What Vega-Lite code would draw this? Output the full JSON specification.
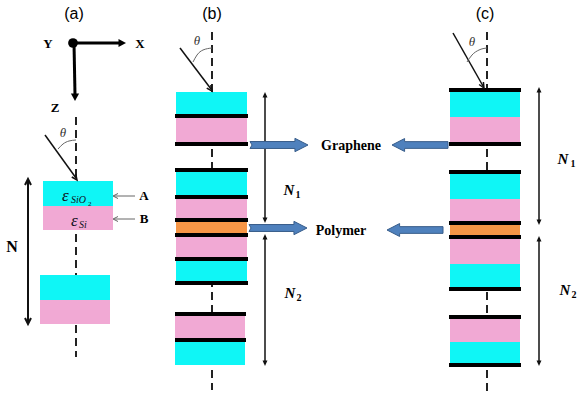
{
  "$schema": "https://vega.github.io/schema/vega-lite/v6.json",
  "width": 581,
  "height": 397,
  "padding": 0,
  "autosize": {"type": "fit", "contains": "padding"},
  "background": "white",
  "config": {"view": {"stroke": null}},
  "datasets": {
    "dashes": [
      {"x": 76, "y": 117, "y2": 357},
      {"x": 212, "y": 32, "y2": 390},
      {"x": 487, "y": 32, "y2": 392}
    ],
    "rects": [
      {"x": 43, "x2": 113, "y": 181, "y2": 206, "m": "SiO2"},
      {"x": 43, "x2": 113, "y": 206, "y2": 230, "m": "Si"},
      {"x": 40, "x2": 110, "y": 275, "y2": 300, "m": "SiO2"},
      {"x": 40, "x2": 110, "y": 300, "y2": 324, "m": "Si"},
      {"x": 176, "x2": 247, "y": 92, "y2": 116, "m": "SiO2"},
      {"x": 176, "x2": 247, "y": 116, "y2": 143, "m": "Si"},
      {"x": 176, "x2": 247, "y": 170, "y2": 197, "m": "SiO2"},
      {"x": 176, "x2": 247, "y": 197, "y2": 220, "m": "Si"},
      {"x": 176, "x2": 247, "y": 220, "y2": 235, "m": "polymer"},
      {"x": 176, "x2": 247, "y": 235, "y2": 259, "m": "Si"},
      {"x": 176, "x2": 247, "y": 259, "y2": 283, "m": "SiO2"},
      {"x": 175, "x2": 245, "y": 314, "y2": 340, "m": "Si"},
      {"x": 175, "x2": 245, "y": 340, "y2": 365, "m": "SiO2"},
      {"x": 450, "x2": 520, "y": 91, "y2": 117, "m": "SiO2"},
      {"x": 450, "x2": 520, "y": 117, "y2": 143, "m": "Si"},
      {"x": 450, "x2": 520, "y": 173, "y2": 199, "m": "SiO2"},
      {"x": 450, "x2": 520, "y": 199, "y2": 222, "m": "Si"},
      {"x": 450, "x2": 520, "y": 222, "y2": 237, "m": "polymer"},
      {"x": 450, "x2": 520, "y": 237, "y2": 264, "m": "Si"},
      {"x": 450, "x2": 520, "y": 264, "y2": 288, "m": "SiO2"},
      {"x": 450, "x2": 520, "y": 318, "y2": 342, "m": "Si"},
      {"x": 450, "x2": 520, "y": 342, "y2": 364, "m": "SiO2"},
      {"x": 175, "x2": 248, "y": 114, "y2": 118, "m": "graphene"},
      {"x": 175, "x2": 248, "y": 142, "y2": 146, "m": "graphene"},
      {"x": 175, "x2": 248, "y": 168, "y2": 172, "m": "graphene"},
      {"x": 175, "x2": 248, "y": 195, "y2": 199, "m": "graphene"},
      {"x": 175, "x2": 248, "y": 218, "y2": 222, "m": "graphene"},
      {"x": 175, "x2": 248, "y": 233, "y2": 237, "m": "graphene"},
      {"x": 175, "x2": 248, "y": 257, "y2": 261, "m": "graphene"},
      {"x": 175, "x2": 248, "y": 281, "y2": 285, "m": "graphene"},
      {"x": 175, "x2": 246, "y": 312, "y2": 316, "m": "graphene"},
      {"x": 175, "x2": 246, "y": 338, "y2": 342, "m": "graphene"},
      {"x": 449, "x2": 521, "y": 88, "y2": 92, "m": "graphene"},
      {"x": 449, "x2": 521, "y": 142, "y2": 146, "m": "graphene"},
      {"x": 449, "x2": 521, "y": 170, "y2": 174, "m": "graphene"},
      {"x": 449, "x2": 521, "y": 221, "y2": 225, "m": "graphene"},
      {"x": 449, "x2": 521, "y": 235, "y2": 239, "m": "graphene"},
      {"x": 449, "x2": 521, "y": 287, "y2": 291, "m": "graphene"},
      {"x": 449, "x2": 521, "y": 315, "y2": 319, "m": "graphene"},
      {"x": 449, "x2": 521, "y": 363, "y2": 367, "m": "graphene"}
    ],
    "thin": [
      {"x": 45, "y": 135, "x2": 76, "y2": 178},
      {"x": 180, "y": 48, "x2": 211, "y2": 89},
      {"x": 453, "y": 33, "x2": 483, "y2": 86},
      {"x": 265, "y": 94, "x2": 265, "y2": 221},
      {"x": 265, "y": 236, "x2": 265, "y2": 364},
      {"x": 539, "y": 89, "x2": 539, "y2": 223},
      {"x": 539, "y": 238, "x2": 539, "y2": 364}
    ],
    "nline": [
      {"x": 28, "y": 181, "x2": 28, "y2": 322}
    ],
    "coord": [
      {"x": 73, "y": 43, "x2": 120, "y2": 43},
      {"x": 74, "y": 43, "x2": 75, "y2": 95}
    ],
    "grayline": [
      {"x": 135, "y": 196, "x2": 114, "y2": 196},
      {"x": 135, "y": 219, "x2": 114, "y2": 219}
    ],
    "bighead": [
      {"x": 126, "y": 43, "a": 0},
      {"x": 75, "y": 101, "a": 90}
    ],
    "smallhead": [
      {"x": 265, "y": 92, "a": 270},
      {"x": 265, "y": 223, "a": 90},
      {"x": 265, "y": 234, "a": 270},
      {"x": 265, "y": 366, "a": 90},
      {"x": 539, "y": 87, "a": 270},
      {"x": 539, "y": 225, "a": 90},
      {"x": 539, "y": 236, "a": 270},
      {"x": 539, "y": 366, "a": 90}
    ],
    "nhead": [
      {"x": 28, "y": 179, "a": 270},
      {"x": 28, "y": 324, "a": 90}
    ],
    "rayhead": [
      {"x": 77, "y": 180, "a": 54},
      {"x": 212, "y": 91, "a": 53},
      {"x": 484, "y": 88, "a": 60}
    ],
    "grayhead": [
      {"x": 113, "y": 196, "a": 180},
      {"x": 113, "y": 219, "a": 180}
    ],
    "dot": [
      {"x": 73, "y": 43}
    ],
    "arcs": [
      {"g": "a", "x": 76, "y": 140},
      {"g": "a", "x": 69, "y": 141},
      {"g": "a", "x": 63, "y": 144},
      {"g": "a", "x": 58, "y": 149},
      {"g": "b", "x": 212, "y": 48},
      {"g": "b", "x": 203, "y": 50},
      {"g": "b", "x": 197, "y": 55},
      {"g": "b", "x": 193, "y": 62},
      {"g": "c", "x": 487, "y": 48},
      {"g": "c", "x": 479, "y": 50},
      {"g": "c", "x": 472, "y": 55},
      {"g": "c", "x": 467, "y": 62}
    ],
    "rarrow": [
      {"x": 279, "y": 145},
      {"x": 278, "y": 228}
    ],
    "larrow": [
      {"x": 420, "y": 145},
      {"x": 415, "y": 230}
    ],
    "panel": [
      {"x": 74, "y": 14, "t": "(a)"},
      {"x": 212, "y": 14, "t": "(b)"},
      {"x": 485, "y": 14, "t": "(c)"}
    ],
    "labels": [
      {"x": 48, "y": 44, "t": "Y"},
      {"x": 140, "y": 44, "t": "X"},
      {"x": 55, "y": 108, "t": "Z"},
      {"x": 144, "y": 196, "t": "A"},
      {"x": 144, "y": 219, "t": "B"}
    ],
    "words": [
      {"x": 351, "y": 146, "t": "Graphene"},
      {"x": 341, "y": 231, "t": "Polymer"}
    ],
    "bigN": [
      {"x": 12, "y": 247, "t": "N"}
    ],
    "nlab": [
      {"x": 289, "y": 190, "t": "N"},
      {"x": 290, "y": 293, "t": "N"},
      {"x": 563, "y": 159, "t": "N"},
      {"x": 565, "y": 290, "t": "N"}
    ],
    "nsub": [
      {"x": 298, "y": 195, "t": "1"},
      {"x": 299, "y": 298, "t": "2"},
      {"x": 573, "y": 164, "t": "1"},
      {"x": 574, "y": 295, "t": "2"}
    ],
    "theta": [
      {"x": 63, "y": 133, "t": "θ"},
      {"x": 197, "y": 41, "t": "θ"},
      {"x": 472, "y": 42, "t": "θ"}
    ],
    "eps": [
      {"x": 62, "y": 196, "t": "ε"},
      {"x": 71, "y": 221, "t": "ε"}
    ],
    "epssub": [
      {"x": 71, "y": 200, "t": "SiO"},
      {"x": 79, "y": 225, "t": "Si"}
    ],
    "epssub2": [
      {"x": 88, "y": 204, "t": "2"}
    ]
  },
  "encoding": {
    "x": {"field": "x", "type": "quantitative", "scale": {"domain": [0, 581], "nice": false, "zero": false}, "axis": null},
    "y": {"field": "y", "type": "quantitative", "scale": {"domain": [0, 397], "nice": false, "zero": false, "reverse": true}, "axis": null}
  },
  "layer": [
    {
      "data": {"name": "dashes"},
      "mark": {"type": "rule", "color": "#222222", "strokeWidth": 2, "strokeDash": [8, 5]},
      "encoding": {"y2": {"field": "y2"}}
    },
    {
      "data": {"name": "rects"},
      "mark": {"type": "rect", "opacity": 1},
      "encoding": {
        "x2": {"field": "x2"},
        "y2": {"field": "y2"},
        "color": {"field": "m", "type": "nominal", "legend": null,
          "scale": {"domain": ["SiO2", "Si", "polymer", "graphene"], "range": ["#0ff6f6", "#f1a9d4", "#f79646", "#000000"]}}
      }
    },
    {
      "data": {"name": "thin"},
      "mark": {"type": "rule", "color": "#111111", "strokeWidth": 1.5},
      "encoding": {"x2": {"field": "x2"}, "y2": {"field": "y2"}}
    },
    {
      "data": {"name": "nline"},
      "mark": {"type": "rule", "color": "#111111", "strokeWidth": 2},
      "encoding": {"x2": {"field": "x2"}, "y2": {"field": "y2"}}
    },
    {
      "data": {"name": "coord"},
      "mark": {"type": "rule", "color": "#000000", "strokeWidth": 3},
      "encoding": {"x2": {"field": "x2"}, "y2": {"field": "y2"}}
    },
    {
      "data": {"name": "grayline"},
      "mark": {"type": "rule", "color": "#666666", "strokeWidth": 1},
      "encoding": {"x2": {"field": "x2"}, "y2": {"field": "y2"}}
    },
    {
      "data": {"name": "bighead"},
      "mark": {"type": "point", "shape": "M0,0L-2,-1.1L-2,1.1Z", "filled": true, "color": "#000000", "opacity": 1, "size": 56},
      "encoding": {"angle": {"field": "a", "type": "quantitative", "scale": null}}
    },
    {
      "data": {"name": "smallhead"},
      "mark": {"type": "point", "shape": "M0,0L-2,-0.9L-2,0.9Z", "filled": true, "color": "#111111", "opacity": 1, "size": 30},
      "encoding": {"angle": {"field": "a", "type": "quantitative", "scale": null}}
    },
    {
      "data": {"name": "nhead"},
      "mark": {"type": "point", "shape": "M-2,-1L0,0L-2,1", "filled": false, "color": "#111111", "opacity": 1, "strokeWidth": 2, "size": 36},
      "encoding": {"angle": {"field": "a", "type": "quantitative", "scale": null}}
    },
    {
      "data": {"name": "rayhead"},
      "mark": {"type": "point", "shape": "M-2,-0.9L0,0L-2,0.9", "filled": false, "color": "#111111", "opacity": 1, "strokeWidth": 1.5, "size": 30},
      "encoding": {"angle": {"field": "a", "type": "quantitative", "scale": null}}
    },
    {
      "data": {"name": "grayhead"},
      "mark": {"type": "point", "shape": "M-2,-1L0,0L-2,1", "filled": false, "color": "#666666", "opacity": 1, "strokeWidth": 1, "size": 25},
      "encoding": {"angle": {"field": "a", "type": "quantitative", "scale": null}}
    },
    {
      "data": {"name": "dot"},
      "mark": {"type": "point", "shape": "circle", "filled": true, "color": "#000000", "opacity": 1, "size": 95}
    },
    {
      "data": {"name": "arcs"},
      "mark": {"type": "line", "color": "#666666", "strokeWidth": 1, "interpolate": "monotone"},
      "encoding": {"detail": {"field": "g"}}
    },
    {
      "data": {"name": "rarrow"},
      "mark": {"type": "point", "shape": "M-1,-0.12L0.55,-0.12L0.55,-0.23L1,0L0.55,0.23L0.55,0.12L-1,0.12L-0.93,0Z", "filled": true, "fill": "#4f81bd", "stroke": "#385d8a", "strokeWidth": 1, "opacity": 1, "size": 3364}
    },
    {
      "data": {"name": "larrow"},
      "mark": {"type": "point", "shape": "M1,-0.12L-0.55,-0.12L-0.55,-0.23L-1,0L-0.55,0.23L-0.55,0.12L1,0.12Z", "filled": true, "fill": "#4f81bd", "stroke": "#385d8a", "strokeWidth": 1, "opacity": 1, "size": 3136}
    },
    {
      "data": {"name": "panel"},
      "mark": {"type": "text", "font": "Liberation Sans", "fontSize": 16, "color": "#000000", "align": "center", "baseline": "middle"},
      "encoding": {"text": {"field": "t"}}
    },
    {
      "data": {"name": "labels"},
      "mark": {"type": "text", "font": "Liberation Serif", "fontWeight": "bold", "fontSize": 13, "color": "#000000", "align": "center", "baseline": "middle"},
      "encoding": {"text": {"field": "t"}}
    },
    {
      "data": {"name": "words"},
      "mark": {"type": "text", "font": "Liberation Serif", "fontWeight": "bold", "fontSize": 14, "color": "#000000", "align": "center", "baseline": "middle"},
      "encoding": {"text": {"field": "t"}}
    },
    {
      "data": {"name": "bigN"},
      "mark": {"type": "text", "font": "Liberation Serif", "fontWeight": "bold", "fontSize": 16, "color": "#000000", "align": "center", "baseline": "middle"},
      "encoding": {"text": {"field": "t"}}
    },
    {
      "data": {"name": "nlab"},
      "mark": {"type": "text", "font": "Liberation Serif", "fontWeight": "bold", "fontStyle": "italic", "fontSize": 15, "color": "#000000", "align": "center", "baseline": "middle"},
      "encoding": {"text": {"field": "t"}}
    },
    {
      "data": {"name": "nsub"},
      "mark": {"type": "text", "font": "Liberation Serif", "fontWeight": "bold", "fontSize": 10, "color": "#000000", "align": "center", "baseline": "middle"},
      "encoding": {"text": {"field": "t"}}
    },
    {
      "data": {"name": "theta"},
      "mark": {"type": "text", "font": "Liberation Serif", "fontStyle": "italic", "fontSize": 13, "color": "#333333", "align": "center", "baseline": "middle"},
      "encoding": {"text": {"field": "t"}}
    },
    {
      "data": {"name": "eps"},
      "mark": {"type": "text", "font": "Liberation Serif", "fontStyle": "italic", "fontSize": 17, "color": "#111122", "align": "left", "baseline": "middle"},
      "encoding": {"text": {"field": "t"}}
    },
    {
      "data": {"name": "epssub"},
      "mark": {"type": "text", "font": "Liberation Serif", "fontStyle": "italic", "fontSize": 10, "color": "#111122", "align": "left", "baseline": "middle"},
      "encoding": {"text": {"field": "t"}}
    },
    {
      "data": {"name": "epssub2"},
      "mark": {"type": "text", "font": "Liberation Serif", "fontSize": 7, "color": "#111122", "align": "left", "baseline": "middle"},
      "encoding": {"text": {"field": "t"}}
    }
  ]
}
